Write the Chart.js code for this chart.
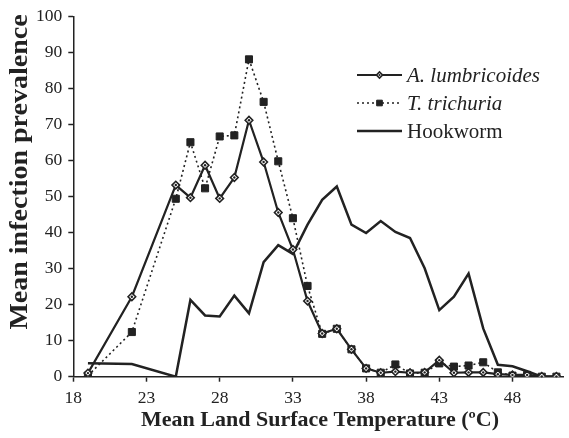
<!DOCTYPE html>
<html>
<head>
<meta charset="utf-8">
<script src="https://cdn.jsdelivr.net/npm/chart.js@4.4.1/dist/chart.umd.min.js"></script>
<style>
  html, body { margin: 0; padding: 0; background: #fff; }
  #wrap { width: 569px; height: 438px; position: relative; }
</style>
</head>
<body>
<div id="wrap"><canvas id="c" width="569" height="438"></canvas></div>
<script>
// ---- Data ----
const temperatures = [19, 22, 25, 26, 27, 28, 29, 30, 31, 32, 33, 34, 35, 36, 37, 38, 39, 40, 41, 42, 43, 44, 45, 46, 47, 48, 49, 50, 51];
const ascaris = [1.0, 22.2, 53.2, 49.7, 58.7, 49.5, 55.3, 71.2, 59.6, 45.6, 35.3, 21.0, 12.0, 13.3, 7.6, 2.3, 1.1, 1.4, 1.1, 1.2, 4.6, 1.1, 1.2, 1.2, 0.7, 0.5, 0.5, 0.1, 0.1];
const trichuris = [0.3, 12.4, 49.4, 65.1, 52.3, 66.7, 67.0, 88.1, 76.3, 59.8, 44.0, 25.2, 11.9, 13.3, 7.6, 2.3, 1.1, 3.4, 0.9, 1.1, 3.7, 2.8, 3.1, 4.0, 1.2, 0.3, 0.5, 0.0, 0.0];
const hookworm = [3.7, 3.5, 0.0, 21.3, 17.0, 16.7, 22.5, 17.6, 31.8, 36.5, 34.1, 42.2, 49.1, 52.8, 42.2, 39.9, 43.2, 40.2, 38.5, 30.1, 18.5, 22.2, 28.6, 13.4, 3.3, 2.9, 1.5, 0.0, 0.0];
const xTickLabels = [18, 23, 28, 33, 38, 43, 48];
const yTickLabels = [0, 10, 20, 30, 40, 50, 60, 70, 80, 90, 100];
const seriesNames = ['A. lumbricoides', 'T. trichuria', 'Hookworm'];
const xTitle = 'Mean Land Surface Temperature (\u00BAC)';
const yTitle = 'Mean infection prevalence';

const toXY = (vals) => temperatures.map((t, i) => ({ x: t, y: vals[i] }));

const SERIF = '"Liberation Serif", "Times New Roman", serif';
const INK = '#222';

const customDraw = {
  id: 'customDraw',
  afterDatasetsDraw(chart) {
    // small dark centre dot inside each diamond marker
    const meta = chart.getDatasetMeta(0);
    const ctx = chart.ctx;
    ctx.save();
    ctx.fillStyle = INK;
    meta.data.forEach(pt => {
      ctx.beginPath();
      ctx.arc(pt.x, pt.y, 1.2, 0, Math.PI * 2);
      ctx.fill();
    });
    ctx.restore();
  },
  afterDraw(chart) {
    const ctx = chart.ctx;
    ctx.save();
    // axis titles
    ctx.fillStyle = INK;
    ctx.font = 'bold 22px ' + SERIF;
    ctx.textAlign = 'center';
    ctx.textBaseline = 'middle';
    ctx.fillText(xTitle, 320, 420);
    ctx.translate(21, 172);
    ctx.rotate(-Math.PI / 2);
    ctx.scale(1.12, 1);
    ctx.font = 'bold 25px ' + SERIF;
    ctx.fillText(yTitle, 0, 0);
    ctx.restore();

    // legend
    ctx.save();
    const rows = [75, 103, 131];
    const x0 = 357, x1 = 402, tx = 407;
    chart.data.datasets.forEach((ds, i) => {
      const y = rows[i];
      ctx.strokeStyle = INK;
      ctx.lineWidth = ds.borderWidth;
      ctx.setLineDash(ds.borderDash || []);
      ctx.beginPath();
      ctx.moveTo(x0, y);
      ctx.lineTo(x1, y);
      ctx.stroke();
      ctx.setLineDash([]);
      if (ds.pointRadius > 0) {
        ctx.fillStyle = ds.pointBackgroundColor;
        ctx.strokeStyle = ds.pointBorderColor;
        ctx.lineWidth = ds.pointBorderWidth;
        Chart.helpers.drawPoint(ctx, {
          pointStyle: ds.pointStyle,
          radius: ds.pointRadius * 0.8,
          borderWidth: ds.pointBorderWidth,
          rotation: 0
        }, (x0 + x1) / 2, y);
        if (i === 0) {
          ctx.fillStyle = INK;
          ctx.beginPath();
          ctx.arc((x0 + x1) / 2, y, 1.1, 0, Math.PI * 2);
          ctx.fill();
        }
      }
      ctx.fillStyle = INK;
      ctx.font = (i < 2 ? 'italic ' : '') + '21px ' + SERIF;
      ctx.textAlign = 'left';
      ctx.textBaseline = 'middle';
      ctx.fillText(ds.label, tx, y + 1);
    });
    ctx.restore();
  }
};

new Chart(document.getElementById('c'), {
  type: 'scatter',
  data: {
    datasets: [
      {
        label: seriesNames[0],
        data: toXY(ascaris),
        showLine: true,
        borderColor: INK,
        borderWidth: 2.2,
        pointStyle: 'rectRot',
        pointRadius: 3.8,
        pointBackgroundColor: '#fff',
        pointBorderColor: INK,
        pointBorderWidth: 1.6,
        order: 1
      },
      {
        label: seriesNames[1],
        data: toXY(trichuris),
        showLine: true,
        borderColor: INK,
        borderWidth: 1.6,
        borderDash: [2, 3],
        pointStyle: 'rect',
        pointRadius: 5,
        pointBackgroundColor: INK,
        pointBorderColor: INK,
        pointBorderWidth: 1,
        order: 2
      },
      {
        label: seriesNames[2],
        data: toXY(hookworm),
        showLine: true,
        borderColor: INK,
        borderWidth: 2.5,
        pointRadius: 0,
        pointHoverRadius: 0,
        order: 3
      }
    ]
  },
  options: {
    responsive: false,
    animation: false,
    events: [],
    layout: { padding: { top: 13.3, right: 4, left: 0, bottom: 0 } },
    plugins: {
      legend: { display: false },
      tooltip: { enabled: false }
    },
    scales: {
      x: {
        type: 'linear',
        min: 18,
        max: 51.45,
        afterFit(scale) { scale.height = 61.3; },
        afterBuildTicks(scale) { scale.ticks = xTickLabels.map(v => ({ value: v })); },
        border: { display: true, color: INK, width: 1.5 },
        grid: { display: true, drawOnChartArea: false, drawTicks: true, tickLength: 5, tickColor: INK, tickWidth: 1.5 },
        ticks: { color: INK, font: { family: SERIF, size: 17.5 }, padding: 6, maxRotation: 0, autoSkip: false }
      },
      y: {
        min: 0,
        max: 100,
        afterFit(scale) { scale.width = 73.3; },
        afterBuildTicks(scale) { scale.ticks = yTickLabels.map(v => ({ value: v })); },
        border: { display: true, color: INK, width: 1.5 },
        grid: { display: true, drawOnChartArea: false, drawTicks: true, tickLength: 5, tickColor: INK, tickWidth: 1.5 },
        ticks: { color: INK, font: { family: SERIF, size: 17.5 }, padding: 6 }
      }
    }
  },
  plugins: [customDraw]
});
</script>
</body>
</html>
